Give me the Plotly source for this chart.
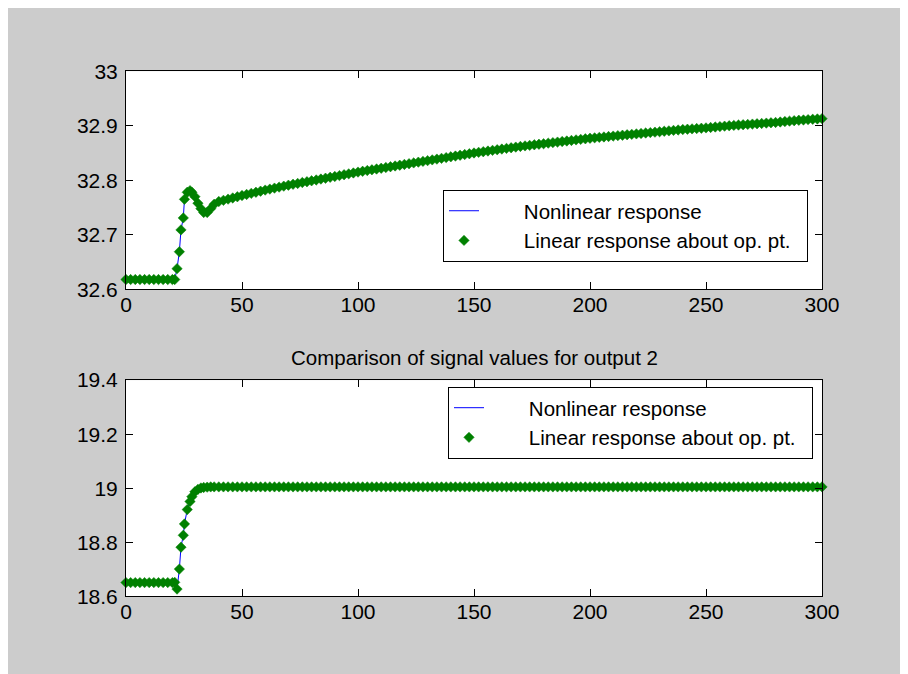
import plotly.graph_objects as go

# ---------------- data ----------------
time_head = [0, 2, 4, 6, 8, 10, 12, 14, 16, 18, 20, 21, 22, 23, 23.7, 24.7, 25.2,
             26.4, 27.6, 28.4, 29.7, 31, 32.3, 33.5, 35, 36.5, 38]
time_tail = list(range(40, 301, 2))
time = time_head + time_tail

out1_head = [32.618, 32.618, 32.618, 32.618, 32.618, 32.618, 32.618, 32.618, 32.618,
             32.618, 32.618, 32.618, 32.638, 32.669, 32.709, 32.731, 32.765, 32.778,
             32.781, 32.778, 32.770, 32.758, 32.748, 32.741, 32.741, 32.748, 32.756]
out1_tail = [
    32.7610, 32.7632, 32.7654, 32.7676, 32.7698,
    32.7720, 32.7740, 32.7760, 32.7780, 32.7800,
    32.7820, 32.7838, 32.7856, 32.7874, 32.7892,
    32.7910, 32.7926, 32.7942, 32.7958, 32.7974,
    32.7990, 32.8006, 32.8022, 32.8038, 32.8054,
    32.8070, 32.8086, 32.8102, 32.8118, 32.8134,
    32.8150, 32.8164, 32.8178, 32.8192, 32.8206,
    32.8220, 32.8234, 32.8248, 32.8262, 32.8276,
    32.8290, 32.8304, 32.8318, 32.8332, 32.8346,
    32.8360, 32.8374, 32.8388, 32.8402, 32.8416,
    32.8430, 32.8444, 32.8458, 32.8472, 32.8486,
    32.8500, 32.8512, 32.8524, 32.8536, 32.8548,
    32.8560, 32.8572, 32.8584, 32.8596, 32.8608,
    32.8620, 32.8630, 32.8640, 32.8650, 32.8660,
    32.8670, 32.8680, 32.8690, 32.8700, 32.8710,
    32.8720, 32.8730, 32.8740, 32.8750, 32.8760,
    32.8770, 32.8778, 32.8786, 32.8794, 32.8802,
    32.8810, 32.8818, 32.8826, 32.8834, 32.8842,
    32.8850, 32.8858, 32.8866, 32.8874, 32.8882,
    32.8890, 32.8898, 32.8906, 32.8914, 32.8922,
    32.8930, 32.8936, 32.8942, 32.8948, 32.8954,
    32.8960, 32.8968, 32.8976, 32.8984, 32.8992,
    32.9000, 32.9006, 32.9012, 32.9018, 32.9024,
    32.9030, 32.9036, 32.9042, 32.9048, 32.9054,
    32.9060, 32.9068, 32.9076, 32.9084, 32.9092,
    32.9100, 32.9106, 32.9112, 32.9118, 32.9124,
    32.9130]
out1_linear = out1_head + out1_tail
out1_nonlinear = out1_head + out1_tail

out2_head = [18.651, 18.651, 18.651, 18.651, 18.651, 18.651, 18.651, 18.651, 18.651,
             18.651, 18.651, 18.652, 18.627, 18.701, 18.782, 18.826, 18.868, 18.921,
             18.951, 18.969, 18.987, 18.996, 19.001, 19.003, 19.004, 19.005, 19.005]
out2_tail = [
    19.005, 19.005, 19.005, 19.005, 19.005, 19.005, 19.005, 19.005, 19.005, 19.005,
    19.005, 19.005, 19.005, 19.005, 19.005, 19.005, 19.005, 19.005, 19.005, 19.005,
    19.005, 19.005, 19.005, 19.005, 19.005, 19.005, 19.005, 19.005, 19.005, 19.005,
    19.005, 19.005, 19.005, 19.005, 19.005, 19.005, 19.005, 19.005, 19.005, 19.005,
    19.005, 19.005, 19.005, 19.005, 19.005, 19.005, 19.005, 19.005, 19.005, 19.005,
    19.005, 19.005, 19.005, 19.005, 19.005, 19.005, 19.005, 19.005, 19.005, 19.005,
    19.005, 19.005, 19.005, 19.005, 19.005, 19.005, 19.005, 19.005, 19.005, 19.005,
    19.005, 19.005, 19.005, 19.005, 19.005, 19.005, 19.005, 19.005, 19.005, 19.005,
    19.005, 19.005, 19.005, 19.005, 19.005, 19.005, 19.005, 19.005, 19.005, 19.005,
    19.005, 19.005, 19.005, 19.005, 19.005, 19.005, 19.005, 19.005, 19.005, 19.005,
    19.005, 19.005, 19.005, 19.005, 19.005, 19.005, 19.005, 19.005, 19.005, 19.005,
    19.005, 19.005, 19.005, 19.005, 19.005, 19.005, 19.005, 19.005, 19.005, 19.005,
    19.005, 19.005, 19.005, 19.005, 19.005, 19.005, 19.005, 19.005, 19.005, 19.005,
    19.005]
out2_linear = out2_head + out2_tail
out2_nonlinear = out2_head + out2_tail

x_ticks = [0, 50, 100, 150, 200, 250, 300]
legend_names = ["Nonlinear response", "Linear response about op. pt."]
title2 = "Comparison of signal values for output 2"

# ---------------- figure ----------------
# the page body adds an 8px offset; figure coordinates = page coordinates - 8
OFF = 8
W, H = 898, 666
L = 126 - OFF
R = W - (822 - OFF)
FONT = "Liberation Sans, Arial, sans-serif"
GREEN = "#008000"
BLUE = "#0000ff"
NB = "\u00a0"


def fy(page_y):
    return 1 - (page_y - OFF) / H


def fx(page_x):
    return (page_x - OFF - L) / (W - L - R)


fig = go.Figure()

for (y_nl, y_lin, xa, ya, lg) in [
    (out1_nonlinear, out1_linear, "x", "y", "legend"),
    (out2_nonlinear, out2_linear, "x2", "y2", "legend2"),
]:
    fig.add_trace(go.Scatter(
        x=time, y=y_nl, mode="lines", name=NB * 7 + legend_names[0] + NB * 2,
        line=dict(color=BLUE, width=1), xaxis=xa, yaxis=ya, legend=lg,
        cliponaxis=False))
    fig.add_trace(go.Scatter(
        x=time, y=y_lin, mode="markers", name=NB * 7 + legend_names[1] + NB * 2,
        marker=dict(color=GREEN, symbol="diamond", size=8,
                    line=dict(color=GREEN, width=0.5)),
        xaxis=xa, yaxis=ya, legend=lg, cliponaxis=False))

axis_common = dict(
    showline=True, linecolor="black", linewidth=1, mirror="ticks",
    ticks="inside", ticklen=7, tickwidth=1, tickcolor="black",
    showgrid=False, zeroline=False,
    tickfont=dict(family=FONT, size=21, color="black"),
)

top_dom = [fy(287), fy(61)]
bot_dom = [fy(605), fy(381)]

legend_common = dict(xanchor="left", yanchor="top",
                     bgcolor="white", bordercolor="black", borderwidth=1,
                     font=dict(family=FONT, size=20.5, color="black"),
                     tracegroupgap=0)

fig.update_layout(
    width=W, height=H,
    margin=dict(l=L, r=R, t=0, b=0, pad=0),
    paper_bgcolor="#cccccc",
    plot_bgcolor="white",
    font=dict(family=FONT, size=20, color="black"),
    xaxis=dict(domain=[0, 1], range=[0, 300], tickvals=x_ticks, anchor="y",
               ticklabelstandoff=-4, **axis_common),
    yaxis=dict(domain=top_dom, range=[32.6, 33], dtick=0.1, tick0=32.6, anchor="x",
               ticklabelstandoff=3, **axis_common),
    xaxis2=dict(domain=[0, 1], range=[0, 300], tickvals=x_ticks, anchor="y2",
                ticklabelstandoff=-4, **axis_common),
    yaxis2=dict(domain=bot_dom, range=[18.6, 19.4], dtick=0.2, tick0=18.6, anchor="x2",
                ticklabelstandoff=3, **axis_common),
    legend=dict(x=fx(443), y=fy(184), **legend_common),
    legend2=dict(x=fx(448), y=fy(388), **legend_common),
    showlegend=True,
    annotations=[dict(text=title2, xref="paper", yref="paper",
                      x=0.5, y=fy(358), xanchor="center", yanchor="middle",
                      showarrow=False, font=dict(family=FONT, size=20.5, color="black"))],
)

fig.write_html("out.html")
